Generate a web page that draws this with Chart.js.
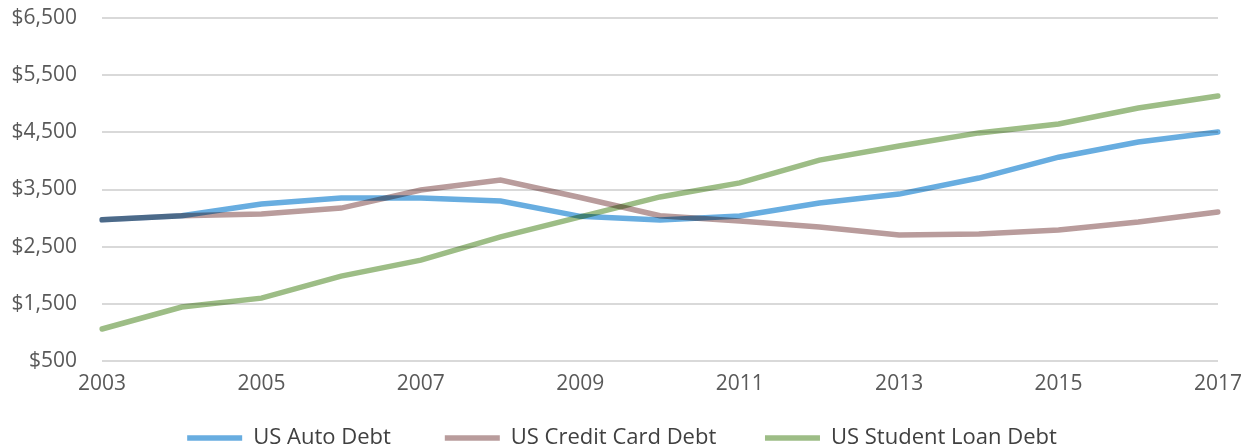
<!DOCTYPE html>
<html>
<head>
<meta charset="utf-8">
<script src="https://cdn.jsdelivr.net/npm/chart.js@4/dist/chart.umd.min.js"></script>
<style>
  html, body { margin: 0; padding: 0; background: #fff; overflow: hidden; }
  #wrap { width: 1252px; height: 459px; }
</style>
</head>
<body>
<div id="wrap"><canvas id="debt" width="1252" height="459"></canvas></div>
<script>
const years = ['2003', '2004', '2005', '2006', '2007', '2008', '2009', '2010',
  '2011', '2012', '2013', '2014', '2015', '2016', '2017'];
const autoDebt = [2970, 3040, 3245, 3350, 3350, 3300, 3030, 2965, 3035, 3265, 3420, 3700, 4065, 4330, 4505];
const creditCardDebt = [2970, 3040, 3070, 3175, 3490, 3665, 3360, 3040, 2950, 2845, 2705, 2720, 2790, 2930, 3105];
const studentLoanDebt = [1060, 1445, 1600, 1985, 2265, 2670, 3020, 3370, 3615, 4015, 4260, 4490, 4645, 4925, 5135];

// lines multiply where they cross, like the original
const multiplyLines = {
  id: 'multiplyLines',
  beforeDatasetsDraw(chart) {
    chart.ctx.save();
    chart.ctx.globalCompositeOperation = 'multiply';
  },
  afterDatasetsDraw(chart) {
    chart.ctx.restore();
  }
};

// extra space after the first two legend entries (padding would also grow the legend height)
const legendGaps = ['\u2003\u2003', '\u2003\u2002 ', ''];

const ctx = document.getElementById('debt');

new Chart(ctx, {
  type: 'line',
  data: {
    labels: years,
    datasets: [{
      label: 'US Auto Debt',
      data: autoDebt,
      borderColor: '#68ade0',
      backgroundColor: '#68ade0',
      borderWidth: 5.5
    }, {
      label: 'US Credit Card Debt',
      data: creditCardDebt,
      borderColor: '#b99c9c',
      backgroundColor: '#b99c9c',
      borderWidth: 5.5
    }, {
      label: 'US Student Loan Debt',
      data: studentLoanDebt,
      borderColor: '#9dbd86',
      backgroundColor: '#9dbd86',
      borderWidth: 5.5
    }]
  },
  options: {
    responsive: false,
    animation: false,
    elements: {
      line: { tension: 0, borderCapStyle: 'round', fill: false },
      point: { radius: 0, hoverRadius: 0 }
    },
    layout: {
      padding: { top: 18, right: 8, left: 0, bottom: 0 }
    },
    plugins: {
      tooltip: { enabled: false },
      legend: {
        position: 'bottom',
        labels: {
          usePointStyle: true,
          pointStyle: 'line',
          pointStyleWidth: 55,
          boxHeight: 22,
          padding: 10,
          color: '#404040',
          font: { family: '"Open Sans"', size: 22 },
          generateLabels(chart) {
            const items = Chart.defaults.plugins.legend.labels.generateLabels(chart);
            items.forEach((item, i) => { item.text = item.text + legendGaps[i]; });
            return items;
          }
        }
      }
    },
    scales: {
      x: {
        grid: { display: false, drawTicks: false },
        border: { display: false },
        ticks: {
          autoSkip: false,
          maxRotation: 0,
          padding: 10,
          color: '#595959',
          font: { family: '"Open Sans"', size: 21 },
          callback: function (value, index) {
            return index % 2 === 0 ? this.getLabelForValue(value) : '';
          }
        },
        afterFit(scale) { scale.height = 56; }
      },
      y: {
        min: 500,
        max: 6500,
        grid: { color: '#d9d9d9', lineWidth: 2, tickLength: 22, tickColor: 'rgba(0,0,0,0)' },
        border: { display: false },
        ticks: {
          stepSize: 1000,
          padding: 3,
          color: '#595959',
          font: { family: '"Open Sans"', size: 21 },
          callback: (v) => '$' + v.toLocaleString('en-US')
        },
        afterFit(scale) { scale.width = 102; }
      }
    }
  },
  plugins: [multiplyLines]
});
</script>
</body>
</html>
